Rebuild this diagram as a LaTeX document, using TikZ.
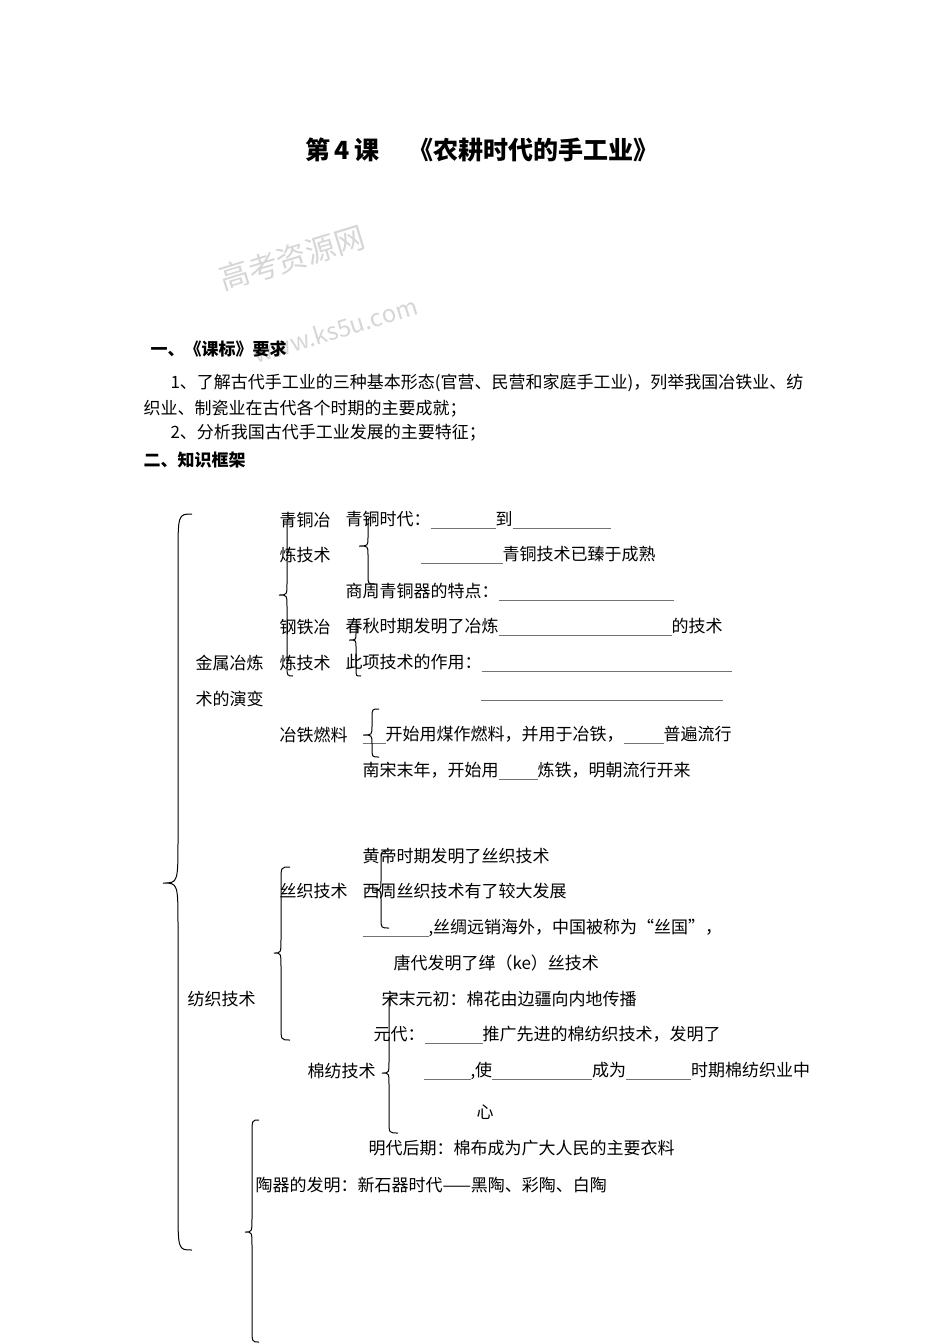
\documentclass[tikz,border=0pt]{standalone}
\usepackage{fontspec}
\newfontfamily\cjk{Noto Sans CJK SC}
\usepackage{tikz}

% curly brace: [radius]{spine x}{tip x}{end x}{top y}{tip y}{bottom y}
\newcommand{\kbrace}[7][12]{%
  \draw (#4,#5) .. controls (#2,#5) .. (#2,#5+#1) -- (#2,#6-#1)
        .. controls (#2,#6) .. (#3,#6) .. controls (#2,#6) .. (#2,#6+#1)
        -- (#2,#7-#1) .. controls (#2,#7) .. (#4,#7);}
\newcommand{\blank}[1]{\textcolor{black!55}{\rule[-3pt]{#1pt}{0.6pt}}}

\begin{document}
\begin{tikzpicture}[x=1pt,y=-1pt,line width=1pt,
    every node/.style={font=\cjk\fontsize{17}{17}\selectfont, inner sep=0pt, anchor=west},
    head/.style={font=\cjk\bfseries\fontsize{17}{17}\selectfont},
    mark/.style={font=\cjk\fontsize{#1}{#1}\selectfont, text=black!16, anchor=center, rotate=17}]
  \useasboundingbox[fill=white] (0,0) rectangle (950,1344);

  % title and watermark
  \node[font=\cjk\bfseries\fontsize{25}{25}\selectfont] (ttl1) at (305,150) {第\,4\,课};
  \node[font=\cjk\bfseries\fontsize{25}{25}\selectfont] (ttl2) at (408,150) {《农耕时代的手工业》};
  \node[mark=30] (wm1) at (292,258) {高考资源网};
  \node[mark=24] (wm2) at (335,330) {www.ks5u.com};

  % requirements
  \node[head] (h1) at (150,349) {一、《课标》要求};
  \node (req1) at (170,383) {1、了解古代手工业的三种基本形态(官营、民营和家庭手工业)，列举我国冶铁业、纺};
  \node (req2) at (143,409) {织业、制瓷业在古代各个时期的主要成就；};
  \node (req3) at (170,433) {2、分析我国古代手工业发展的主要特征；};
  \node[head] (h2) at (143,460) {二、知识框架};

  % metal smelting
  \node (met1) at (195,663) {金属冶炼};
  \node (met2) at (195,699) {术的演变};
  \node (bro1) at (279,520) {青铜冶};
  \node (bro2) at (279,555) {炼技术};
  \node (iro1) at (279,627) {钢铁冶};
  \node (iro2) at (279,663) {炼技术};
  \node (fue) at (279,735) {冶铁燃料};
  \node (b1) at (345,520) {青铜时代：\blank{65}到\blank{98}};
  \node (b2) at (420,555) {\blank{82}青铜技术已臻于成熟};
  \node (b3) at (345,592) {商周青铜器的特点：\blank{175}};
  \node (i1) at (345,627) {春秋时期发明了冶炼\blank{173}的技术};
  \node (i2) at (345,663) {此项技术的作用：\blank{250}};
  \node (i3) at (480,699) {\blank{242}};
  \node (f1) at (362,735) {\blank{23}开始用煤作燃料，并用于冶铁，\blank{40}普遍流行};
  \node (f2) at (362,771) {南宋末年，开始用\blank{39}炼铁，明朝流行开来};

  % textile
  \node (tex) at (187,999) {纺织技术};
  \node (sil) at (279,891) {丝织技术};
  \node (s1) at (362,856) {黄帝时期发明了丝织技术};
  \node (s2) at (362,891) {西周丝织技术有了较大发展};
  \node (s3) at (362,928) {\blank{66},丝绸远销海外，中国被称为“丝国”，};
  \node (s4) at (393,963) {唐代发明了缂（ke）丝技术};
  \node (cot) at (307,1071) {棉纺技术};
  \node (c1) at (381,999) {宋末元初：棉花由边疆向内地传播};
  \node (c2) at (373,1035) {元代：\blank{58}推广先进的棉纺织技术，发明了};
  \node (c3) at (423,1071) {\blank{47},使\blank{100}成为\blank{65}时期棉纺织业中};
  \node (c4) at (476,1112) {心};
  \node (c5) at (368,1148) {明代后期：棉布成为广大人民的主要衣料};

  % ceramics
  \node (cer) at (255,1185) {陶器的发明：新石器时代——黑陶、彩陶、白陶};

  % braces
  \kbrace[45]{178}{163}{192}{514}{883}{1250}
  \kbrace{287}{279}{293}{518}{595}{676}
  \kbrace[9]{368}{359}{375}{517}{546}{584}
  \kbrace[7]{356}{349}{361}{619}{640}{676}
  \kbrace[9]{372}{363}{379}{709}{735}{757}
  \kbrace[14]{281}{274}{290}{867}{953}{1040}
  \kbrace[10]{381}{374}{389}{851}{890}{928}
  \kbrace[12]{389}{382}{398}{995}{1073}{1133}
  \kbrace[14]{252}{245}{259}{1120}{1232}{1342}
\end{tikzpicture}
\end{document}
